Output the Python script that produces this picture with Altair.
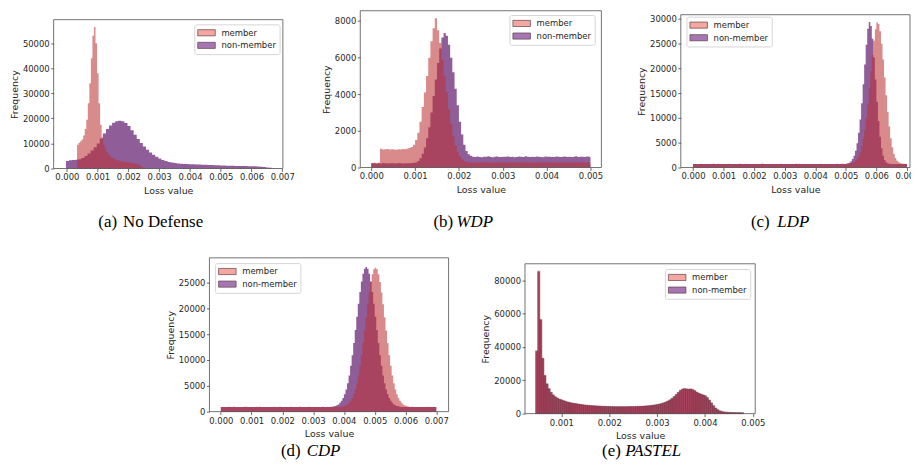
import altair as alt
import pandas as pd

LABELS = ["member", "non-member"]
M_COLOR = "#bb3032"
N_COLOR = "#5f1a6c"
LEG_M = "#f4a6a0"
LEG_N = "#a676b3"
SANS = "DejaVu Sans"
SERIF = "Liberation Serif"
W, H = 910, 454

# ---------------- (a) No Defense ----------------
A_MEM_START, A_MEM_WIDTH = 0.00033, 0.00005
A_MEM = [9500, 10300, 10900, 11600, 13200, 15800, 19500, 26000, 34000, 44000,
         53000, 56500, 50000, 38000, 26000, 17500, 12500, 9500, 7800, 6600,
         5700, 5000, 4500, 4100, 3800, 3500, 3300, 3100, 2900, 2800,
         2700, 2600, 2500, 2400, 2300, 2200, 2100, 2000, 1900, 1750,
         1500, 1100, 600]
A_NON_START, A_NON_WIDTH = -0.00003, 0.0001
A_NON = [3000, 3300, 3400, 3500, 3700, 4200, 5000, 6000, 7200, 8500,
         10000, 12000, 14000, 15800, 17200, 18300, 18900, 19100, 18900, 18200,
         17000, 15300, 13500, 11800, 10200, 8800, 7500, 6400, 5500, 4700,
         4000, 3400, 3000, 2600, 2400, 2200, 2050, 1950, 1850, 1800,
         1750, 1700, 1650, 1600, 1550, 1500, 1450, 1400, 1350, 1300,
         1250, 1200, 1150, 1100, 1100, 1050, 1050, 1000, 1000, 950,
         950, 900, 800, 700, 600, 450, 300]
A_XTICKS = [0.000, 0.001, 0.002, 0.003, 0.004, 0.005, 0.006, 0.007]
A_YTICKS = [0, 10000, 20000, 30000, 40000, 50000]

# ---------------- (b) WDP ----------------
B_START, B_WIDTH = 0.0, 0.00005
B_MEM = ([250, 260, 240, 255]
         + [1020, 990, 1000, 1010, 980, 1000, 990, 970, 1000, 990, 1010, 1000, 1030, 1060]
         + [1120, 1250, 1500, 1900, 2500, 3300, 4100, 5000, 6000, 6900,
            7600, 8150, 7500, 6800, 5900, 5000, 4100, 3200, 2400, 1700,
            1200, 850, 600, 450, 350]
         + [300, 285, 270, 280, 265, 275, 290, 260, 270, 285,
            275, 265, 280, 270, 290, 275, 260, 280, 270, 285,
            265, 275, 280, 270, 290, 265, 275, 285, 270, 260,
            280, 275, 270, 290, 265, 280, 275, 270, 285, 260,
            275, 280, 270, 265, 290, 275, 280, 270, 285, 265,
            275, 270, 280, 290, 265, 275, 270])
B_NON = ([230, 240, 225, 235, 220, 245, 230, 225, 240, 235,
          230, 220, 245, 235, 225, 240, 230, 235, 250, 260]
         + [280, 350, 500, 750, 1100, 1600, 2200, 3000, 3900, 4800,
            5700, 6500, 7100, 7350, 7200, 6700, 6000, 5200, 4300, 3400,
            2500, 1800, 1250, 900, 720, 640]
         + [590, 570, 600, 580, 565, 595, 585, 610, 575, 560,
            590, 605, 580, 570, 595, 585, 600, 575, 590, 565,
            580, 600, 590, 575, 610, 585, 570, 595, 580, 600,
            590, 575, 565, 600, 585, 595, 580, 570, 605, 590,
            575, 585, 600, 580, 595, 570, 590, 610, 580, 585,
            595, 575, 600, 590])
B_XTICKS = [0.000, 0.001, 0.002, 0.003, 0.004, 0.005]
B_YTICKS = [0, 2000, 4000, 6000, 8000]

# ---------------- (c) LDP ----------------
C_START, C_WIDTH = 0.0, 0.00005
C_MEM = ([720, 735, 710, 700, 725, 740, 715, 705, 730, 720, 695, 715, 735, 710, 720, 705, 740, 725, 700, 715,
          730, 710, 720, 745, 705, 715, 700, 725, 735, 710, 720, 730, 705, 715, 740, 700, 720, 710, 735, 725,
          705, 720, 715, 730, 700, 740, 710, 725, 715, 705, 735, 720, 710, 700, 730, 715, 725, 745, 705, 720,
          715, 700, 730, 720, 710, 735, 725, 705, 715, 740, 700, 720, 730, 710, 725, 715, 705, 735, 720, 710,
          725, 715, 705, 740, 720, 700, 730, 715, 710, 725, 735, 705, 720, 715, 730, 710, 725, 740, 745, 735]
         + [740, 760, 800, 850, 950, 1100, 1350, 1750, 2300, 3100,
            4200, 5700, 7600, 10000, 12800, 16000, 19400, 22700, 25600, 27900,
            29300, 29000, 27500, 25000, 21800, 18200, 14600, 11200, 8300, 5900,
            4100, 2800, 1900, 1400, 1100, 900, 800, 760, 740, 720])
C_NON = ([710, 725, 700, 715, 735, 705, 720, 710, 730, 700, 715, 725, 705, 740, 710, 720, 700, 730, 715, 705,
          725, 715, 700, 735, 710, 720, 705, 730, 715, 700, 740, 720, 710, 725, 705, 715, 730, 700, 720, 710,
          700, 730, 715, 705, 720, 740, 710, 725, 700, 715, 735, 705, 720, 710, 730, 700, 715, 725, 705, 720,
          735, 710, 720, 700, 725, 715, 705, 740, 710, 720, 730, 700, 715, 725, 710, 705, 735, 720, 700, 715,
          720, 705, 730, 710, 700, 725, 715, 735, 705, 720, 710, 730, 700, 715, 740, 720, 705, 725, 715, 730]
         + [780, 850, 980, 1250, 1700, 2400, 3400, 4900, 7000, 9700,
            13000, 16800, 20800, 24800, 28000, 29400, 28600, 26000, 22200, 17800,
            13300, 9400, 6200, 3900, 2400, 1500, 1050, 850, 760, 730,
            720, 710, 720, 700, 715, 705, 720, 710, 700, 715])
C_XTICKS = [0.000, 0.001, 0.002, 0.003, 0.004, 0.005, 0.006, 0.007]
C_YTICKS = [0, 5000, 10000, 15000, 20000, 25000, 30000]

# ---------------- (d) CDP ----------------
D_START, D_WIDTH = 0.0, 0.00005
D_MEM = ([900, 915, 890, 880, 905, 925, 895, 885, 910, 900, 875, 895, 920, 890, 905, 885, 930, 910, 880, 895,
          910, 890, 900, 925, 885, 895, 880, 905, 920, 890, 900, 915, 885, 895, 925, 880, 900, 890, 915, 905,
          885, 900, 895, 910, 880, 925, 890, 905, 895, 885, 920, 900, 890, 880, 910, 895, 905, 930, 885, 900,
          895, 880, 910, 900, 890, 920, 905, 885, 895, 925, 880, 900, 910, 890, 905, 895, 885, 920, 940, 1000]
         + [1100, 1230, 1400, 1700, 2100, 2650, 3350, 4300, 5500, 7000,
            8900, 10900, 13300, 15700, 18300, 20800, 23100, 25100, 26600, 27600,
            27900, 27600, 26600, 25100, 23100, 20800, 18300, 15700, 13300, 10900,
            8900, 7000, 5500, 4300, 3350, 2650, 2100, 1700, 1400, 1230,
            1100, 1020, 960]
         + [910, 895, 885, 905, 920, 890, 900, 880, 915, 895, 905, 925, 890, 885, 900, 910, 895])
D_NON = ([895, 905, 885, 920, 900, 890, 910, 880, 925, 895, 905, 890, 915, 885, 900, 930, 895, 880, 910, 900,
          890, 915, 900, 885, 905, 925, 890, 880, 910, 895, 900, 920, 885, 905, 890, 915, 880, 900, 925, 895,
          910, 885, 900, 890, 920, 905, 880, 895, 915, 900, 890, 925, 885, 905, 895, 910, 880, 900, 920, 890,
          905, 895, 885, 915, 900, 890, 925, 880, 905, 910, 895, 930, 960, 1020]
         + [1100, 1230, 1400, 1700, 2100, 2650, 3350, 4300, 5500, 7000,
            8900, 10900, 13300, 15800, 18400, 20900, 23200, 25200, 26700, 27700,
            28000, 27700, 26700, 25200, 23200, 20900, 18400, 15800, 13300, 10900,
            8900, 7000, 5500, 4300, 3350, 2650, 2100, 1700, 1400, 1230,
            1100, 1020, 960]
         + [920, 905, 895, 885, 910, 900, 890, 925, 880, 905, 895, 915, 900, 885, 910, 890, 920, 905, 895, 880,
            915, 900, 890])
D_XTICKS = [0.000, 0.001, 0.002, 0.003, 0.004, 0.005, 0.006, 0.007]
D_YTICKS = [0, 5000, 10000, 15000, 20000, 25000]

# ---------------- (e) PASTEL ----------------
E_START, E_WIDTH = 0.000462, 0.0000435
E_MEM = [37800, 85700, 56700, 33400, 23000, 18000, 15000, 12800, 11300, 10200,
         9400, 8800, 8300, 7800, 7400, 7000, 6700, 6400, 6200, 6000,
         5800, 5600, 5400, 5250, 5100, 5000, 4900, 4800, 4700, 4650,
         4600, 4500, 4450, 4400, 4350, 4300, 4250, 4250, 4200, 4200,
         4200, 4200, 4200, 4200, 4250, 4250, 4300, 4300, 4350, 4400,
         4450, 4500, 4600, 4700, 4800, 4950, 5100, 5300, 5500, 5800,
         6100, 6500, 7000, 7600, 8300, 9200, 10300, 11500, 12800, 14000,
         14800, 15100, 14900, 14800, 14900, 14500, 13800, 12900, 12300, 11800,
         11300, 10800, 9700, 8200, 6500, 4800, 3400, 2400, 1700, 1300,
         1050, 900, 800, 720, 680, 640, 600, 580, 560, 540]
E_NON = [37500, 85200, 56300, 33100, 22800, 17800, 14900, 12700, 11200, 10100,
         9300, 8700, 8250, 7750, 7350, 6950, 6650, 6350, 6150, 5950,
         5750, 5550, 5350, 5200, 5050, 4950, 4850, 4750, 4650, 4600,
         4550, 4450, 4400, 4350, 4300, 4250, 4200, 4200, 4150, 4150,
         4150, 4150, 4150, 4150, 4200, 4200, 4250, 4250, 4300, 4350,
         4400, 4450, 4550, 4650, 4750, 4900, 5050, 5250, 5450, 5750,
         6050, 6450, 6950, 7550, 8200, 9100, 10200, 11400, 12700, 13900,
         14700, 15000, 14800, 14700, 14800, 14400, 13700, 12800, 12200, 11700,
         11200, 10700, 9600, 8100, 6400, 4750, 3350, 2350, 1650, 1250,
         1000, 870, 780, 700, 660, 620, 580, 560, 540, 520]
E_XTICKS = [0.001, 0.002, 0.003, 0.004, 0.005]
E_YTICKS = [0, 20000, 40000, 60000, 80000]

# captions (text, x, baseline y) -- layout only
CAP_NORMAL = [("(a)", 91, 218.5), ("No Defense", 116, 218.5), ("(b)", 428.7, 218.5),
              ("(c)", 748.7, 218.5), ("(d)", 275, 450), ("(e)", 598.7, 450)]
CAP_ITALIC = [("WDP", 452, 218.5), ("LDP", 775.3, 218.5), ("CDP", 301, 450), ("PASTEL", 622, 450)]


def step_df(start, width, counts):
    n = len(counts)
    return pd.DataFrame({"x": [start + i * width for i in range(n + 1)],
                         "count": list(counts) + [0]})


def bar_df(start, width, counts):
    n = len(counts)
    return pd.DataFrame({"x0": [start + i * width for i in range(n)],
                         "x1": [start + (i + 1) * width for i in range(n)],
                         "count": counts})


def panel_layers(mem, non, xdom, xrng, ydom, yrng, xticks, yticks, legend_xy, bars=False):
    xs = alt.Scale(domain=xdom, range=xrng, nice=False, zero=False)
    ys = alt.Scale(domain=ydom, range=yrng, nice=False)
    out = []
    for (start, width, counts), color, op in ((non, N_COLOR, 0.7), (mem, M_COLOR, 0.56)):
        if bars:
            out.append(alt.Chart(bar_df(start, width, counts)).mark_rect(
                color=color, opacity=op, stroke="#5c2233", strokeWidth=0.35
            ).encode(x=alt.X("x0:Q", scale=xs, axis=None), x2="x1:Q",
                     y=alt.Y("count:Q", scale=ys, axis=None), y2=alt.datum(0)))
        else:
            out.append(alt.Chart(step_df(start, width, counts)).mark_area(
                interpolate="step-after", color=color, opacity=op
            ).encode(x=alt.X("x:Q", scale=xs, axis=None),
                     y=alt.Y("count:Q", scale=ys, axis=None, stack=None)))
    # legend (library legend, zero-size carrier marks)
    leg_df = pd.DataFrame({"group": LABELS})
    out.append(alt.Chart(leg_df).mark_rect().encode(
        x=alt.value(0), x2=alt.value(0), y=alt.value(0), y2=alt.value(0),
        color=alt.Color("group:N", scale=alt.Scale(domain=LABELS, range=[LEG_M, LEG_N]),
                        legend=alt.Legend(title=None, orient="none",
                                          legendX=legend_xy[0], legendY=legend_xy[1]))))
    # frame + axes
    xax = alt.Axis(orient="bottom", offset=yrng[0] - H, values=xticks, format=".3f",
                   title="Loss value", titlePadding=4.5, labelOverlap=False, labelFlush=False)
    yax = alt.Axis(orient="left", offset=-xrng[0], values=yticks, format="d",
                   title="Frequency", titlePadding=3, labelOverlap=False, labelFlush=False)
    frame_df = pd.DataFrame({"x0": [xdom[0]], "x1": [xdom[1]], "y0": [ydom[0]], "y1": [ydom[1]]})
    out.append(alt.Chart(frame_df).mark_rect(fillOpacity=0, stroke="#505050", strokeWidth=0.8).encode(
        x=alt.X("x0:Q", scale=xs, axis=xax), x2="x1:Q",
        y=alt.Y("y0:Q", scale=ys, axis=yax), y2="y1:Q",
    ))
    return out


layers = []
layers += panel_layers((A_MEM_START, A_MEM_WIDTH, A_MEM), (A_NON_START, A_NON_WIDTH, A_NON),
                       [-0.00043, 0.00702], [46, 277], [0, 59400], [160, 10],
                       A_XTICKS, A_YTICKS, (187.7, 14.7))
layers += panel_layers((B_START, B_WIDTH, B_MEM), (B_START, B_WIDTH, B_NON),
                       [-0.00025, 0.00525], [355, 598], [0, 8560], [159, 1],
                       B_XTICKS, B_YTICKS, (505.3, 5.3))
layers += panel_layers((C_START, C_WIDTH, C_MEM), (C_START, C_WIDTH, C_NON),
                       [-0.0004, 0.0071], [678, 909], [0, 30860], [159, 5],
                       C_XTICKS, C_YTICKS, (683.7, 7))
layers += panel_layers((D_START, D_WIDTH, D_MEM), (D_START, D_WIDTH, D_NON),
                       [-0.00037, 0.0074], [203, 444], [0, 29800], [405, 250],
                       D_XTICKS, D_YTICKS, (208.7, 255.3))
layers += panel_layers((E_START, E_WIDTH, E_MEM), (E_START, E_WIDTH, E_NON),
                       [0.00024, 0.00505], [521, 753], [0, 90000], [407, 256],
                       E_XTICKS, E_YTICKS, (662, 261.3), bars=True)

for caps, style in ((CAP_NORMAL, "normal"), (CAP_ITALIC, "italic")):
    cdf = pd.DataFrame({"t": [c[0] for c in caps], "x": [c[1] for c in caps],
                        "y": [c[2] for c in caps]})
    layers.append(alt.Chart(cdf).mark_text(
        align="left", baseline="alphabetic", font=SERIF, fontSize=17, color="#000000",
        fontStyle=style
    ).encode(x=alt.X("x:Q", scale=None, axis=None), y=alt.Y("y:Q", scale=None, axis=None),
             text="t:N"))

chart = (
    alt.layer(*layers)
    .resolve_scale(x="independent", y="independent", color="independent")
    .resolve_axis(x="independent", y="independent")
    .resolve_legend(color="independent")
    .properties(width=W, height=H, padding=0, autosize=alt.AutoSizeParams(type="none"))
    .configure_view(strokeWidth=0)
    .configure_axis(domain=False, grid=False, tickColor="#444444", tickWidth=0.8, tickSize=3,
                    labelFont=SANS, labelFontSize=8.5, labelColor="#262626", labelPadding=1.5,
                    titleFont=SANS, titleFontSize=9.5, titleFontWeight="normal",
                    titleColor="#262626")
    .configure_legend(labelFont=SANS, labelFontSize=8.5, labelColor="#262626", padding=3.5,
                      rowPadding=2.7, symbolType="M-2,-0.7H2V0.7H-2Z", symbolSize=78,
                      symbolOffset=3.85, labelOffset=10, strokeColor="#d6d6d6",
                      fillColor="rgba(255,255,255,0.8)", cornerRadius=2,
                      symbolOpacity=1, symbolStrokeColor="#5e4048", symbolStrokeWidth=0.7)
)

chart.save("out.html", embed_options={"renderer": "svg", "actions": False})
